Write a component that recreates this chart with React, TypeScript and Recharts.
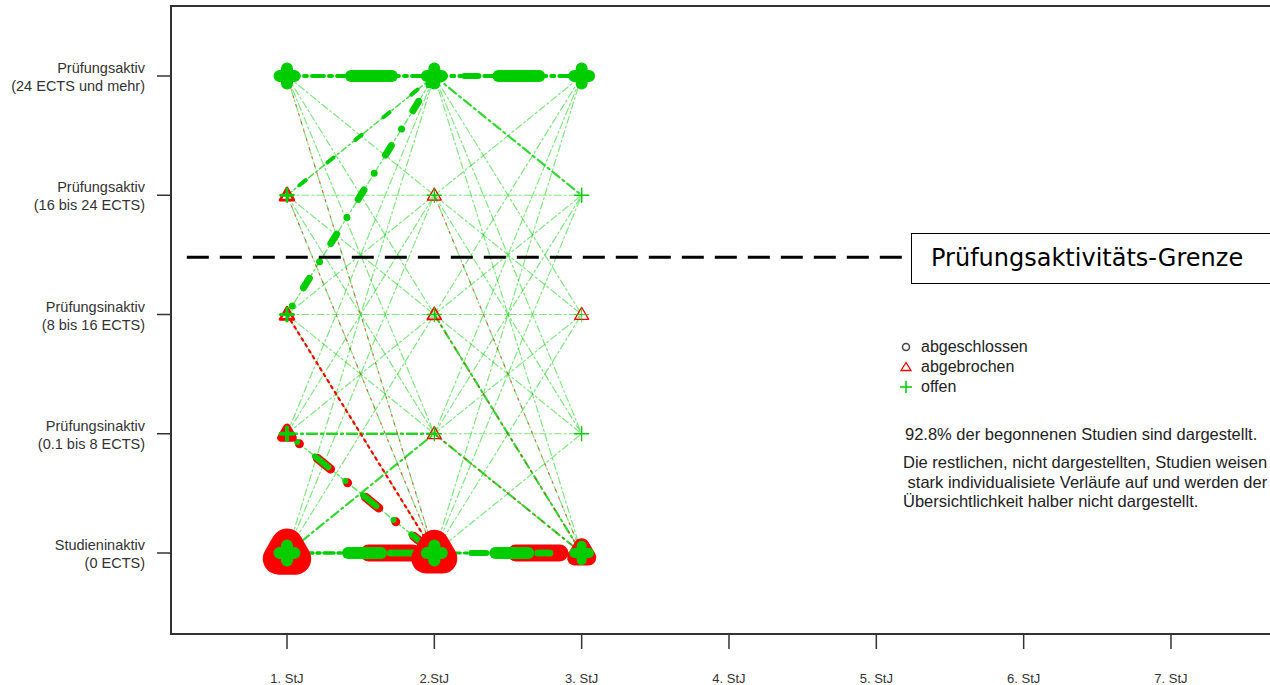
import React from 'react';
import { ComposedChart, Line, Scatter, XAxis, YAxis, ReferenceLine, ReferenceArea } from 'recharts';

// ---------- data ----------
const yearTicks = [1, 2, 3, 4, 5, 6, 7];
const yearLabels = ['1. StJ', '2.StJ', '3. StJ', '4. StJ', '5. StJ', '6. StJ', '7. StJ'];
const stateTicks = [1, 2, 3, 4, 5];
const stateLabelTop = ['Studieninaktiv', 'Prüfungsinaktiv', 'Prüfungsinaktiv', 'Prüfungsaktiv', 'Prüfungsaktiv'];
const stateLabelBottom = ['(0 ECTS)', '(0.1 bis 8 ECTS)', '(8 bis 16 ECTS)', '(16 bis 24 ECTS)', '(24 ECTS und mehr)'];

// transitions 1.StJ -> 2.StJ ; rows: from state 1..5, cols: to state 1..5
const open12 = [
  [40, 2, 1, 1, 1],
  [8, 2, 1, 1, 1],
  [1, 1, 1, 1, 6],
  [1, 1, 1, 1, 3],
  [1, 1, 1, 1, 40],
];
const drop12 = [
  [30, 0, 0, 0, 0],
  [6, 0, 0, 0, 0],
  [3, 0, 0, 0, 0],
  [1, 0, 0, 0, 0],
  [1, 0, 0, 0, 0],
];
// transitions 2.StJ -> 3.StJ
const open23 = [
  [30, 1, 1, 1, 1],
  [3, 1, 1, 1, 1],
  [2, 1, 1, 1, 1],
  [1, 1, 1, 1, 1],
  [1, 1, 1, 2, 35],
];
const drop23 = [
  [25, 0, 0, 0, 0],
  [1, 0, 0, 0, 0],
  [1, 0, 0, 0, 0],
  [1, 0, 0, 0, 0],
  [0, 0, 0, 0, 0],
];

// nodes (year, state, open count, dropped count)
const nodeYear = [1, 1, 1, 1, 1, 2, 2, 2, 2, 2, 3, 3, 3, 3, 3];
const nodeState = [1, 2, 3, 4, 5, 1, 2, 3, 4, 5, 1, 2, 3, 4, 5];
const nodeOpen = [30, 10, 8, 7, 30, 30, 1, 1, 1, 30, 25, 1, 0.6, 1.2, 30];
const nodeDrop = [32, 8, 2, 2, 0, 30, 1, 1.3, 1, 0, 16, 0, 1, 0, 0];

const boundaryLevel = 3.48;
const boundaryStart = 0.32;
const boundaryEnd = 5.235;

// ---------- layout / style ----------
const X_MIN = 0.2127;
const X_MAX = 7.706;
const Y_MIN = 0.3208;
const Y_MAX = 5.587;
const G = '#00CD00';
const R = '#FF0000';

type Layer = { c: string; w: number; dash?: string; off?: number; op?: number };
const THIN: Layer = { c: G, w: 1.2, dash: '7 3 2 3', op: 0.5 };
const MED: Layer = { c: G, w: 2.2, dash: '9 4 2 4', op: 0.8 };
const RED_THIN: Layer = { c: R, w: 1.2, dash: '2 7', off: -3, op: 0.55 };

const HEAVY: Record<string, Layer[]> = {
  '1-5-5': [
    { c: G, w: 4, dash: '12 5 3 5' },
    { c: G, w: 12, dash: '41 2000', off: -64 },
  ],
  '2-5-5': [
    { c: G, w: 4, dash: '12 5 3 5' },
    { c: G, w: 6, dash: '14 2000', off: -30 },
    { c: G, w: 12, dash: '41 2000', off: -64 },
  ],
  '1-1-1': [
    { c: G, w: 3.5, dash: '10 4 3 4', off: -16 },
    { c: R, w: 17, dash: '44 2000', off: -81.5 },
    { c: G, w: 12, dash: '33 2000', off: -61 },
    { c: G, w: 7, dash: '22 2000', off: -103.5 },
  ],
  '2-1-1': [
    { c: G, w: 3, dash: '10 4 3 4', off: -16 },
    { c: R, w: 17, dash: '44 2000', off: -81.5 },
    { c: G, w: 6, dash: '15 2000', off: -37 },
    { c: G, w: 12, dash: '33 2000', off: -61 },
    { c: G, w: 7, dash: '12 2000', off: -103.5 },
  ],
  '1-2-1': [
    { c: G, w: 1.5, dash: '6 3 2 3', op: 0.6 },
    { c: R, w: 9, dash: '17 22 0 23', off: -39 },
    { c: G, w: 6, dash: '17 22 0 23', off: -36 },
  ],
  '1-3-5': [
    { c: G, w: 1.3, dash: '6 3 2 3', op: 0.6 },
    { c: G, w: 7, dash: '11 19.5 0 21.5', off: -31.5 },
  ],
  '1-4-5': [
    { c: G, w: 1.5, dash: '6 3 2 3', op: 0.7 },
    { c: G, w: 4, dash: '8 28', off: -16 },
  ],
  '1-3-1': [
    { c: G, w: 1.2, dash: '7 3 2 3', op: 0.5 },
    { c: R, w: 2.2, dash: '2.5 4.5' },
  ],
  '1-2-2': [{ c: G, w: 2.5, dash: '10 4 2 4', op: 0.85 }],
};

function layersFor(step: number, from: number, to: number, open: number, drop: number): Layer[] {
  const key = `${step}-${from}-${to}`;
  if (HEAVY[key]) return HEAVY[key];
  const out: Layer[] = [];
  if (open > 0) out.push(open >= 2 ? MED : THIN);
  if (drop > 0) out.push(RED_THIN);
  return out;
}

function NodeShape(props: any) {
  const { cx, cy, payload } = props;
  const open: number = payload.open;
  const drop: number = payload.drop;
  const parts: React.ReactNode[] = [];
  if (drop > 0) {
    let side: number;
    let sw: number;
    let fill: string;
    if (drop <= 2.5) {
      side = 14;
      sw = 1.3 * drop;
      fill = 'none';
    } else {
      side = 10 + drop * 0.2;
      sw = drop;
      fill = R;
    }
    const h = (side * Math.sqrt(3)) / 2;
    const d = `M${cx},${cy - h * 0.6} L${cx - side / 2},${cy + h * 0.4} L${cx + side / 2},${cy + h * 0.4} Z`;
    parts.push(<path key="t" d={d} fill={fill} stroke={R} strokeWidth={sw} strokeLinejoin="round" />);
  }
  if (open > 0) {
    let a: number;
    let sw: number;
    if (open <= 2) {
      a = 7;
      sw = 1.3 * open;
    } else {
      a = 6 + open * 0.05;
      sw = open * 0.4;
    }
    const d = `M${cx - a},${cy} H${cx + a} M${cx},${cy - a} V${cy + a}`;
    parts.push(<path key="p" d={d} fill="none" stroke={G} strokeWidth={sw} strokeLinecap="round" />);
  }
  return <g>{parts}</g>;
}

const XTick = (props: any) => {
  const { x, payload } = props;
  return (
    <text x={x} y={678} textAnchor="middle" dominantBaseline="central" fontSize={13} fill="#333">
      {yearLabels[payload.value - 1]}
    </text>
  );
};

const YTick = (props: any) => {
  const { y, payload } = props;
  const i = payload.value - 1;
  return (
    <g>
      <text x={145} y={y - 8} textAnchor="end" dominantBaseline="central" fontSize={14.5} fill="#333">
        {stateLabelTop[i]}
      </text>
      <text x={145} y={y + 10} textAnchor="end" dominantBaseline="central" fontSize={14.5} fill="#333">
        {stateLabelBottom[i]}
      </text>
    </g>
  );
};

export default function App() {
  const lines: React.ReactNode[] = [];
  const steps: [number, number[][], number[][]][] = [
    [1, open12, drop12],
    [2, open23, drop23],
  ];
  const all: { key: string; data: { x: number; y: number }[]; L: Layer }[] = [];
  steps.forEach(([step, om, dm]) => {
    for (let f = 1; f <= 5; f++) {
      for (let t = 1; t <= 5; t++) {
        const data = [
          { x: step, y: f },
          { x: step + 1, y: t },
        ];
        layersFor(step, f, t, om[f - 1][t - 1], dm[f - 1][t - 1]).forEach((L, i) => {
          all.push({ key: `${step}-${f}-${t}-${i}`, data, L });
        });
      }
    }
  });
  all
    .map((o, idx) => ({ ...o, idx }))
    .sort((a, b) => (a.L.w > 3 ? 1 : 0) - (b.L.w > 3 ? 1 : 0) || a.idx - b.idx)
    .forEach(({ key, data, L }) => {
      lines.push(
        <Line
          key={key}
          data={data}
          dataKey="y"
          type="linear"
          stroke={L.c}
          strokeWidth={L.w}
          strokeDasharray={L.dash}
          strokeDashoffset={L.off ?? 0}
          strokeOpacity={L.op ?? 1}
          strokeLinecap="round"
          dot={false}
          activeDot={false}
          legendType="none"
          isAnimationActive={false}
        />
      );
    });

  const nodes = nodeYear.map((yr, i) => ({ x: yr, y: nodeState[i], open: nodeOpen[i], drop: nodeDrop[i] }));

  const legendRows = [
    { label: 'abgeschlossen', sym: 'o' },
    { label: 'abgebrochen', sym: 't' },
    { label: 'offen', sym: 'p' },
  ];

  return (
    <div
      style={{
        position: 'absolute',
        left: 0,
        top: 0,
        width: 1270,
        height: 685,
        overflow: 'hidden',
        background: '#fff',
        fontFamily: '"Liberation Sans", Arial, sans-serif',
      }}
    >
      <ComposedChart width={1290} height={685} margin={{ top: 6, right: 15, bottom: 0, left: 0 }}>
        <XAxis
          dataKey="x"
          type="number"
          domain={[X_MIN, X_MAX]}
          ticks={yearTicks}
          allowDataOverflow
          height={51}
          axisLine={false}
          tickSize={15}
          tickLine={{ stroke: '#333', strokeWidth: 1.5 }}
          tick={<XTick />}
        />
        <YAxis
          dataKey="y"
          type="number"
          domain={[Y_MIN, Y_MAX]}
          ticks={stateTicks}
          allowDataOverflow
          width={171}
          axisLine={false}
          tickSize={14}
          tickLine={{ stroke: '#333', strokeWidth: 1.5 }}
          tick={<YTick />}
        />
        <ReferenceArea
          x1={X_MIN}
          x2={X_MAX}
          y1={Y_MIN}
          y2={Y_MAX}
          fill="none"
          fillOpacity={0}
          stroke="#333"
          strokeWidth={2}
          ifOverflow="visible"
        />
        {lines}
        <Scatter data={nodes} dataKey="y" shape={NodeShape} isAnimationActive={false} legendType="none" />
        <ReferenceLine
          segment={[
            { x: boundaryStart, y: boundaryLevel },
            { x: boundaryEnd, y: boundaryLevel },
          ]}
          stroke="#000"
          strokeWidth={3}
          strokeDasharray="22 11"
        />
      </ComposedChart>

      <div
        style={{
          position: 'absolute',
          left: 911,
          top: 233,
          width: 380,
          height: 51,
          border: '1.5px solid #000',
          boxSizing: 'border-box',
          background: '#fff',
          fontFamily: '"DejaVu Sans", Verdana, sans-serif',
          fontSize: 24,
          lineHeight: '48px',
          paddingLeft: 19,
          color: '#000',
          whiteSpace: 'nowrap',
        }}
      >
        Prüfungsaktivitäts-Grenze
      </div>

      <div style={{ position: 'absolute', left: 898, top: 337, fontSize: 16, color: '#222' }}>
        {legendRows.map((r) => (
          <div key={r.label} style={{ height: 20, display: 'flex', alignItems: 'center' }}>
            <svg width={16} height={16} style={{ marginRight: 7 }}>
              {r.sym === 'o' && <circle cx={8} cy={8} r={3.5} fill="none" stroke="#444" strokeWidth={1.5} />}
              {r.sym === 't' && <path d="M8,3.5 L3,11.5 L13,11.5 Z" fill="none" stroke={R} strokeWidth={1.3} />}
              {r.sym === 'p' && <path d="M2,8 H14 M8,2 V14" stroke={G} strokeWidth={1.5} />}
            </svg>
            <span>{r.label}</span>
          </div>
        ))}
      </div>

      <div style={{ position: 'absolute', left: 905, top: 425, fontSize: 16.5, color: '#222', whiteSpace: 'nowrap' }}>
        92.8% der begonnenen Studien sind dargestellt.
      </div>
      <div
        style={{
          position: 'absolute',
          left: 903,
          top: 453,
          fontSize: 16.5,
          lineHeight: '19.5px',
          color: '#222',
          whiteSpace: 'pre',
        }}
      >
        {'Die restlichen, nicht dargestellten, Studien weisen\n stark individualisiete Verläufe auf und werden der\nÜbersichtlichkeit halber nicht dargestellt.'}
      </div>
    </div>
  );
}
